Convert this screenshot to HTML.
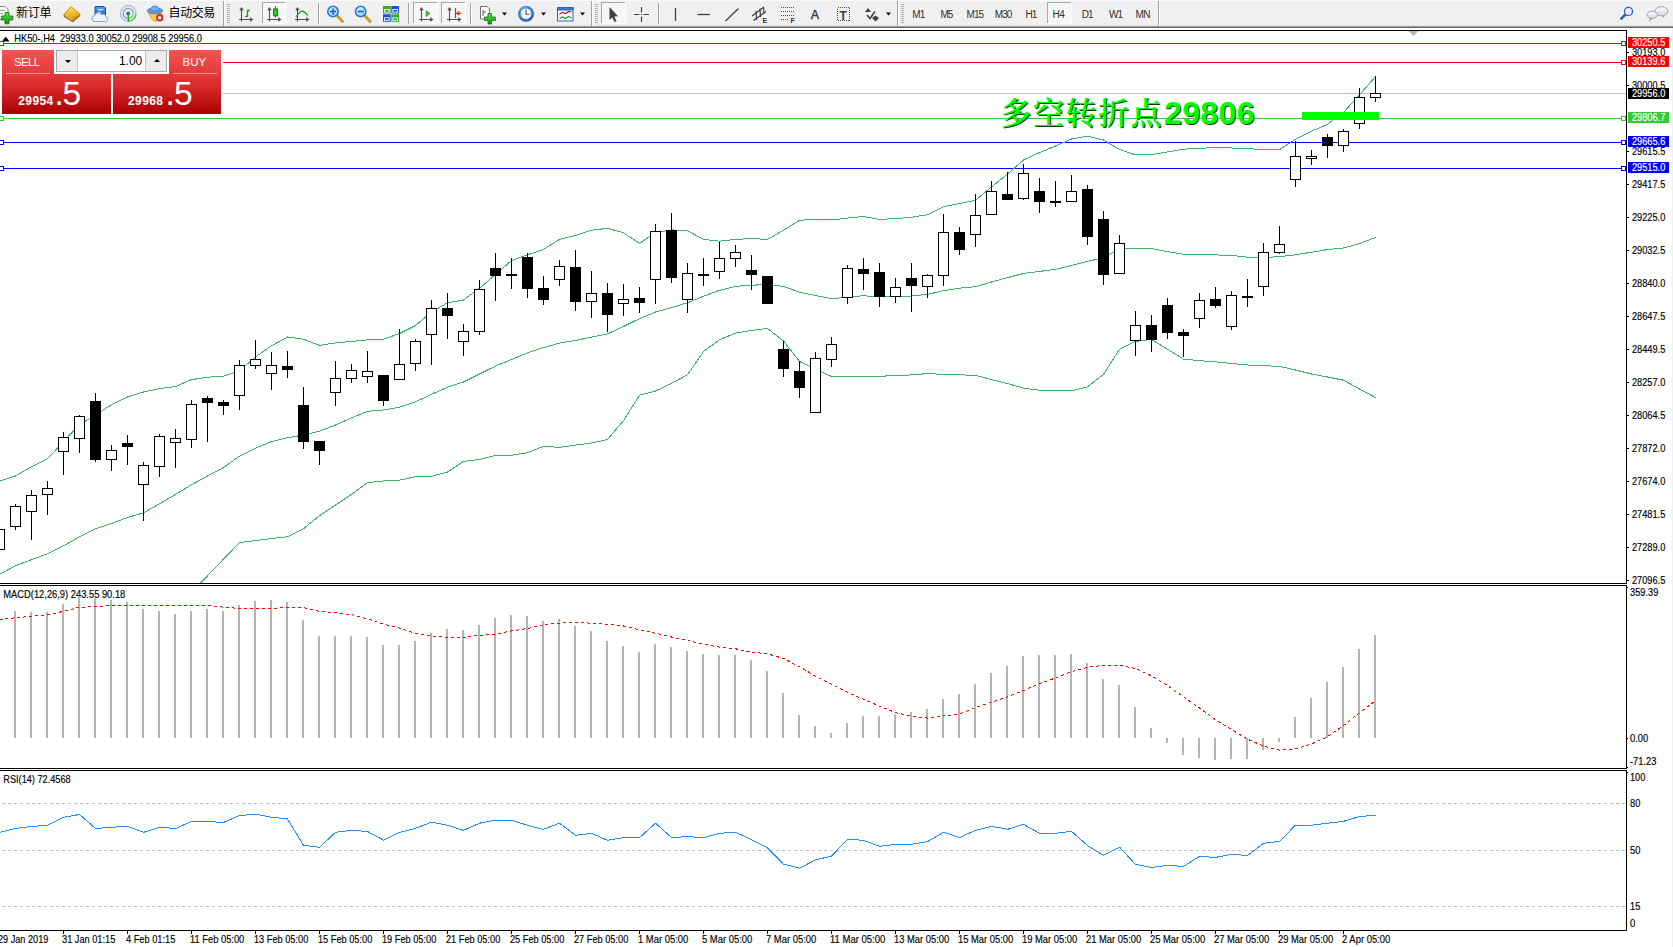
<!DOCTYPE html>
<html><head><meta charset="utf-8"><title>HK50 H4</title>
<style>
html,body{margin:0;padding:0;background:#fff}
body{width:1673px;height:947px;position:relative;overflow:hidden;font-family:"Liberation Sans","Noto Sans CJK SC",sans-serif}
.panel{position:absolute;left:0;top:46px;width:223px;height:70px}
.pbg{position:absolute;left:0;top:0;width:223px;height:70px;background:#fff}
.sellt,.buyt,.sellb,.buyb{position:absolute;color:#fff}
.sellt{left:2px;top:4px;width:52px;height:25px;background:linear-gradient(#f25454,#e43838)}
.buyt{left:169px;top:4px;width:52px;height:25px;background:linear-gradient(#f25454,#e43838)}
.sellb{left:2px;top:28px;width:109px;height:40px;background:linear-gradient(#e43838 0%,#d42626 40%,#b80c0c 80%,#a80000 100%)}
.buyb{left:113px;top:28px;width:108px;height:40px;background:linear-gradient(#e43838 0%,#d42626 40%,#b80c0c 80%,#a80000 100%)}
.sellt span,.buyt span{position:absolute;top:4.5px;font-size:11.5px;line-height:14px;letter-spacing:-0.65px}
.sellt span{left:12px}
.buyt span{left:13.5px;letter-spacing:0}
.sellt i,.buyt i{position:absolute;left:4px;top:23px;width:44px;height:1px;background:#f79a9a}
.sm{position:absolute;left:16.3px;top:20px;font-size:12px;font-weight:bold;line-height:14px;letter-spacing:0.4px}
.dot{position:absolute;left:52.5px;top:1px;font-size:33.5px;line-height:38px}
.bg{position:absolute;left:60.5px;top:1px;font-size:33.5px;line-height:38px}
.buyb .sm{left:15px}.buyb .dot{left:52.5px}.buyb .bg{left:61px}
.spin{position:absolute;left:56px;top:4px;width:109px;height:20px;border:1px solid #a8a8a8;background:#fff}
.sb{position:absolute;top:0;width:20px;height:20px;background:#ececec}
.sb.l{left:0;border-right:1px solid #c4c4c4}.sb.r{right:0;border-left:1px solid #c4c4c4}
.val{position:absolute;left:20.3px;top:0;width:65px;height:20px;font-size:12px;line-height:20px;text-align:right;color:#000}
.dn,.up{position:absolute;left:7.5px;width:0;height:0;border-left:3px solid transparent;border-right:3px solid transparent}
.dn{top:8.5px;border-top:3.5px solid #000}
.up{top:8px;border-bottom:3.5px solid #000}

</style></head><body>
<svg width="1673" height="947" viewBox="0 0 1673 947" style="position:absolute;left:0;top:0" font-family="Liberation Sans, sans-serif" font-size="10.4px" shape-rendering="crispEdges">
<rect x="0" y="28" width="1673" height="919" fill="#fff"/>
<rect x="1672" y="28" width="1" height="919" fill="#f0f0f0"/>
<defs><clipPath id="cm"><rect x="0" y="31" width="1626" height="552"/></clipPath><clipPath id="cd"><rect x="0" y="586" width="1626" height="182"/></clipPath><clipPath id="cr"><rect x="0" y="771" width="1626" height="159"/></clipPath></defs>
<g clip-path="url(#cm)"><rect x="0" y="93" width="1626" height="1" fill="#c0c0c0"/><rect x="0" y="43" width="1626" height="1" fill="#ff0000"/><rect x="-0.5" y="41.5" width="4" height="4" fill="#fff" stroke="#ff0000" stroke-width="1"/><rect x="1621.5" y="41.5" width="4" height="4" fill="#fff" stroke="#ff0000" stroke-width="1"/><rect x="0" y="62" width="1626" height="1" fill="#ff0000"/><rect x="-0.5" y="60.5" width="4" height="4" fill="#fff" stroke="#ff0000" stroke-width="1"/><rect x="1621.5" y="60.5" width="4" height="4" fill="#fff" stroke="#ff0000" stroke-width="1"/><rect x="0" y="118" width="1626" height="1" fill="#32cd32"/><rect x="-0.5" y="116.5" width="4" height="4" fill="#fff" stroke="#32cd32" stroke-width="1"/><rect x="1621.5" y="116.5" width="4" height="4" fill="#fff" stroke="#32cd32" stroke-width="1"/><rect x="0" y="142" width="1626" height="1" fill="#0000ff"/><rect x="-0.5" y="140.5" width="4" height="4" fill="#fff" stroke="#0000ff" stroke-width="1"/><rect x="1621.5" y="140.5" width="4" height="4" fill="#fff" stroke="#0000ff" stroke-width="1"/><rect x="0" y="168" width="1626" height="1" fill="#0000ff"/><rect x="-0.5" y="166.5" width="4" height="4" fill="#fff" stroke="#0000ff" stroke-width="1"/><rect x="1621.5" y="166.5" width="4" height="4" fill="#fff" stroke="#0000ff" stroke-width="1"/><polyline points="-0.5,481.2 15.5,476.0 31.5,466.7 47.5,458.8 63.5,441.6 79.5,424.5 95.5,415.0 111.5,404.7 127.5,397.0 143.5,392.0 159.5,388.6 175.5,386.5 191.5,379.6 207.5,377.2 223.5,376.3 239.5,370.7 255.5,356.9 271.5,345.8 287.5,337.0 303.5,339.2 319.5,345.4 335.5,342.9 351.5,341.4 367.5,339.9 383.5,339.2 399.5,333.5 415.5,325.5 431.5,312.0 447.5,302.8 463.5,300.1 479.5,288.2 495.5,274.5 511.5,260.5 527.5,254.7 543.5,249.4 559.5,239.4 575.5,235.4 591.5,230.2 607.5,228.3 623.5,232.8 639.5,243.4 655.5,232.8 671.5,229.9 687.5,230.7 703.5,239.4 719.5,241.2 735.5,239.4 751.5,238.6 767.5,239.4 783.5,230.2 799.5,220.4 815.5,219.1 831.5,220.0 847.5,218.1 863.5,216.5 879.5,219.4 895.5,218.6 911.5,217.3 927.5,214.7 943.5,206.8 959.5,203.6 975.5,200.2 991.5,187.0 1007.5,174.0 1023.5,160.0 1039.5,152.5 1055.5,146.0 1071.5,139.0 1087.5,136.2 1103.5,140.0 1119.5,149.5 1135.5,155.0 1151.5,154.6 1167.5,152.0 1183.5,149.2 1199.5,148.3 1215.5,147.6 1231.5,148.0 1247.5,148.8 1263.5,149.3 1279.5,149.7 1295.5,139.2 1311.5,131.3 1327.5,124.2 1343.5,112.5 1359.5,94.8 1375.5,76.6" fill="none" stroke="#3cb371" stroke-width="1"/><polyline points="-0.5,574.4 15.5,565.7 31.5,559.6 47.5,553.8 63.5,545.9 79.5,536.7 95.5,528.8 111.5,523.5 127.5,517.4 143.5,512.9 159.5,503.7 175.5,494.4 191.5,484.7 207.5,476.0 223.5,467.5 239.5,456.2 255.5,448.2 271.5,441.6 287.5,437.7 303.5,435.0 319.5,431.1 335.5,425.0 351.5,417.9 367.5,411.3 383.5,410.0 399.5,407.2 415.5,401.8 431.5,394.4 447.5,387.2 463.5,382.0 479.5,374.0 495.5,366.1 511.5,359.5 527.5,352.9 543.5,347.6 559.5,343.1 575.5,340.5 591.5,337.1 607.5,333.9 623.5,326.5 639.5,318.6 655.5,312.0 671.5,307.5 687.5,302.8 703.5,296.2 719.5,290.3 735.5,286.4 751.5,285.1 767.5,284.8 783.5,286.4 799.5,292.2 815.5,295.6 831.5,298.6 847.5,297.3 863.5,295.7 879.5,297.0 895.5,296.5 911.5,296.0 927.5,294.4 943.5,290.7 959.5,288.1 975.5,286.7 991.5,282.0 1007.5,277.5 1023.5,273.5 1039.5,271.4 1055.5,269.3 1071.5,265.4 1087.5,261.4 1103.5,257.7 1119.5,249.0 1135.5,248.2 1151.5,248.5 1167.5,251.6 1183.5,254.3 1199.5,254.4 1215.5,254.9 1231.5,255.4 1247.5,257.2 1263.5,257.5 1279.5,256.7 1295.5,254.8 1311.5,252.2 1327.5,249.5 1343.5,248.0 1359.5,243.5 1375.5,237.4" fill="none" stroke="#3cb371" stroke-width="1"/><polyline points="191.5,592.5 207.5,575.8 223.5,559.2 239.5,542.5 255.5,540.6 271.5,538.5 287.5,536.7 303.5,528.8 319.5,515.6 335.5,505.0 351.5,494.4 367.5,482.6 383.5,481.0 399.5,480.2 415.5,476.7 431.5,476.3 447.5,472.1 463.5,461.4 479.5,459.4 495.5,455.5 511.5,455.2 527.5,452.7 543.5,446.4 559.5,447.3 575.5,445.1 591.5,443.0 607.5,439.5 623.5,420.6 639.5,395.2 655.5,391.0 671.5,383.3 687.5,374.8 703.5,351.6 719.5,339.7 735.5,333.1 751.5,330.5 767.5,328.4 783.5,341.0 799.5,361.5 815.5,369.0 831.5,376.5 847.5,376.2 863.5,376.2 879.5,376.2 895.5,375.7 911.5,374.9 927.5,373.6 943.5,374.4 959.5,374.9 975.5,375.2 991.5,379.7 1007.5,383.6 1023.5,388.1 1039.5,390.2 1055.5,391.0 1071.5,390.8 1087.5,386.8 1103.5,374.4 1119.5,349.3 1135.5,341.4 1151.5,339.5 1167.5,349.3 1183.5,359.1 1199.5,360.7 1215.5,361.8 1231.5,363.5 1247.5,365.0 1263.5,365.7 1279.5,366.4 1295.5,370.0 1311.5,374.0 1327.5,377.0 1343.5,380.2 1359.5,389.0 1375.5,397.7" fill="none" stroke="#3cb371" stroke-width="1"/><rect x="-1" y="529" width="1" height="21" fill="#000"/><rect x="-6" y="529" width="11" height="21" fill="#000"/><rect x="-5" y="530" width="9" height="19" fill="#fff"/><rect x="15" y="504" width="1" height="26" fill="#000"/><rect x="10" y="506" width="11" height="21" fill="#000"/><rect x="11" y="507" width="9" height="19" fill="#fff"/><rect x="31" y="490" width="1" height="50" fill="#000"/><rect x="26" y="495" width="11" height="17" fill="#000"/><rect x="27" y="496" width="9" height="15" fill="#fff"/><rect x="47" y="481" width="1" height="34" fill="#000"/><rect x="42" y="488" width="11" height="7" fill="#000"/><rect x="43" y="489" width="9" height="5" fill="#fff"/><rect x="63" y="432" width="1" height="43" fill="#000"/><rect x="58" y="437" width="11" height="15" fill="#000"/><rect x="59" y="438" width="9" height="13" fill="#fff"/><rect x="79" y="415" width="1" height="38" fill="#000"/><rect x="74" y="416" width="11" height="23" fill="#000"/><rect x="75" y="417" width="9" height="21" fill="#fff"/><rect x="95" y="393" width="1" height="69" fill="#000"/><rect x="90" y="401" width="11" height="59" fill="#000"/><rect x="111" y="445" width="1" height="26" fill="#000"/><rect x="106" y="450" width="11" height="10" fill="#000"/><rect x="107" y="451" width="9" height="8" fill="#fff"/><rect x="127" y="435" width="1" height="30" fill="#000"/><rect x="122" y="443" width="11" height="4" fill="#000"/><rect x="143" y="462" width="1" height="59" fill="#000"/><rect x="138" y="465" width="11" height="20" fill="#000"/><rect x="139" y="466" width="9" height="18" fill="#fff"/><rect x="159" y="434" width="1" height="43" fill="#000"/><rect x="154" y="436" width="11" height="31" fill="#000"/><rect x="155" y="437" width="9" height="29" fill="#fff"/><rect x="175" y="429" width="1" height="39" fill="#000"/><rect x="170" y="438" width="11" height="5" fill="#000"/><rect x="171" y="439" width="9" height="3" fill="#fff"/><rect x="191" y="400" width="1" height="48" fill="#000"/><rect x="186" y="404" width="11" height="36" fill="#000"/><rect x="187" y="405" width="9" height="34" fill="#fff"/><rect x="207" y="396" width="1" height="46" fill="#000"/><rect x="202" y="398" width="11" height="5" fill="#000"/><rect x="223" y="400" width="1" height="15" fill="#000"/><rect x="218" y="402" width="11" height="4" fill="#000"/><rect x="239" y="360" width="1" height="50" fill="#000"/><rect x="234" y="365" width="11" height="31" fill="#000"/><rect x="235" y="366" width="9" height="29" fill="#fff"/><rect x="255" y="340" width="1" height="29" fill="#000"/><rect x="250" y="359" width="11" height="7" fill="#000"/><rect x="251" y="360" width="9" height="5" fill="#fff"/><rect x="271" y="352" width="1" height="38" fill="#000"/><rect x="266" y="365" width="11" height="9" fill="#000"/><rect x="267" y="366" width="9" height="7" fill="#fff"/><rect x="287" y="351" width="1" height="27" fill="#000"/><rect x="282" y="366" width="11" height="4" fill="#000"/><rect x="303" y="387" width="1" height="62" fill="#000"/><rect x="298" y="405" width="11" height="37" fill="#000"/><rect x="319" y="441" width="1" height="24" fill="#000"/><rect x="314" y="441" width="11" height="10" fill="#000"/><rect x="335" y="361" width="1" height="45" fill="#000"/><rect x="330" y="378" width="11" height="15" fill="#000"/><rect x="331" y="379" width="9" height="13" fill="#fff"/><rect x="351" y="364" width="1" height="19" fill="#000"/><rect x="346" y="370" width="11" height="9" fill="#000"/><rect x="347" y="371" width="9" height="7" fill="#fff"/><rect x="367" y="351" width="1" height="32" fill="#000"/><rect x="362" y="371" width="11" height="6" fill="#000"/><rect x="363" y="372" width="9" height="4" fill="#fff"/><rect x="383" y="375" width="1" height="31" fill="#000"/><rect x="378" y="375" width="11" height="26" fill="#000"/><rect x="399" y="329" width="1" height="51" fill="#000"/><rect x="394" y="364" width="11" height="16" fill="#000"/><rect x="395" y="365" width="9" height="14" fill="#fff"/><rect x="415" y="339" width="1" height="32" fill="#000"/><rect x="410" y="341" width="11" height="23" fill="#000"/><rect x="411" y="342" width="9" height="21" fill="#fff"/><rect x="431" y="300" width="1" height="65" fill="#000"/><rect x="426" y="308" width="11" height="27" fill="#000"/><rect x="427" y="309" width="9" height="25" fill="#fff"/><rect x="447" y="293" width="1" height="46" fill="#000"/><rect x="442" y="308" width="11" height="8" fill="#000"/><rect x="463" y="324" width="1" height="32" fill="#000"/><rect x="458" y="331" width="11" height="11" fill="#000"/><rect x="459" y="332" width="9" height="9" fill="#fff"/><rect x="479" y="280" width="1" height="55" fill="#000"/><rect x="474" y="289" width="11" height="43" fill="#000"/><rect x="475" y="290" width="9" height="41" fill="#fff"/><rect x="495" y="253" width="1" height="48" fill="#000"/><rect x="490" y="268" width="11" height="8" fill="#000"/><rect x="511" y="258" width="1" height="31" fill="#000"/><rect x="506" y="274" width="11" height="2" fill="#000"/><rect x="527" y="253" width="1" height="45" fill="#000"/><rect x="522" y="257" width="11" height="32" fill="#000"/><rect x="543" y="276" width="1" height="29" fill="#000"/><rect x="538" y="288" width="11" height="12" fill="#000"/><rect x="559" y="260" width="1" height="26" fill="#000"/><rect x="554" y="266" width="11" height="14" fill="#000"/><rect x="555" y="267" width="9" height="12" fill="#fff"/><rect x="575" y="250" width="1" height="61" fill="#000"/><rect x="570" y="267" width="11" height="35" fill="#000"/><rect x="591" y="271" width="1" height="47" fill="#000"/><rect x="586" y="293" width="11" height="9" fill="#000"/><rect x="587" y="294" width="9" height="7" fill="#fff"/><rect x="607" y="283" width="1" height="49" fill="#000"/><rect x="602" y="293" width="11" height="22" fill="#000"/><rect x="623" y="284" width="1" height="32" fill="#000"/><rect x="618" y="299" width="11" height="5" fill="#000"/><rect x="619" y="300" width="9" height="3" fill="#fff"/><rect x="639" y="287" width="1" height="26" fill="#000"/><rect x="634" y="298" width="11" height="5" fill="#000"/><rect x="655" y="224" width="1" height="80" fill="#000"/><rect x="650" y="231" width="11" height="49" fill="#000"/><rect x="651" y="232" width="9" height="47" fill="#fff"/><rect x="671" y="213" width="1" height="70" fill="#000"/><rect x="666" y="230" width="11" height="48" fill="#000"/><rect x="687" y="263" width="1" height="50" fill="#000"/><rect x="682" y="273" width="11" height="27" fill="#000"/><rect x="683" y="274" width="9" height="25" fill="#fff"/><rect x="703" y="258" width="1" height="28" fill="#000"/><rect x="698" y="274" width="11" height="2" fill="#000"/><rect x="719" y="242" width="1" height="37" fill="#000"/><rect x="714" y="258" width="11" height="14" fill="#000"/><rect x="715" y="259" width="9" height="12" fill="#fff"/><rect x="735" y="245" width="1" height="22" fill="#000"/><rect x="730" y="252" width="11" height="7" fill="#000"/><rect x="731" y="253" width="9" height="5" fill="#fff"/><rect x="751" y="255" width="1" height="35" fill="#000"/><rect x="746" y="270" width="11" height="5" fill="#000"/><rect x="767" y="276" width="1" height="28" fill="#000"/><rect x="762" y="276" width="11" height="28" fill="#000"/><rect x="783" y="341" width="1" height="36" fill="#000"/><rect x="778" y="349" width="11" height="20" fill="#000"/><rect x="799" y="361" width="1" height="37" fill="#000"/><rect x="794" y="371" width="11" height="17" fill="#000"/><rect x="815" y="352" width="1" height="61" fill="#000"/><rect x="810" y="358" width="11" height="55" fill="#000"/><rect x="811" y="359" width="9" height="53" fill="#fff"/><rect x="831" y="337" width="1" height="30" fill="#000"/><rect x="826" y="344" width="11" height="16" fill="#000"/><rect x="827" y="345" width="9" height="14" fill="#fff"/><rect x="847" y="265" width="1" height="39" fill="#000"/><rect x="842" y="268" width="11" height="30" fill="#000"/><rect x="843" y="269" width="9" height="28" fill="#fff"/><rect x="863" y="258" width="1" height="32" fill="#000"/><rect x="858" y="269" width="11" height="5" fill="#000"/><rect x="879" y="263" width="1" height="44" fill="#000"/><rect x="874" y="272" width="11" height="25" fill="#000"/><rect x="895" y="278" width="1" height="25" fill="#000"/><rect x="890" y="287" width="11" height="10" fill="#000"/><rect x="891" y="288" width="9" height="8" fill="#fff"/><rect x="911" y="263" width="1" height="49" fill="#000"/><rect x="906" y="278" width="11" height="8" fill="#000"/><rect x="927" y="274" width="1" height="24" fill="#000"/><rect x="922" y="275" width="11" height="12" fill="#000"/><rect x="923" y="276" width="9" height="10" fill="#fff"/><rect x="943" y="214" width="1" height="72" fill="#000"/><rect x="938" y="232" width="11" height="44" fill="#000"/><rect x="939" y="233" width="9" height="42" fill="#fff"/><rect x="959" y="227" width="1" height="28" fill="#000"/><rect x="954" y="232" width="11" height="18" fill="#000"/><rect x="975" y="194" width="1" height="53" fill="#000"/><rect x="970" y="215" width="11" height="20" fill="#000"/><rect x="971" y="216" width="9" height="18" fill="#fff"/><rect x="991" y="181" width="1" height="34" fill="#000"/><rect x="986" y="191" width="11" height="24" fill="#000"/><rect x="987" y="192" width="9" height="22" fill="#fff"/><rect x="1007" y="172" width="1" height="28" fill="#000"/><rect x="1002" y="194" width="11" height="6" fill="#000"/><rect x="1023" y="164" width="1" height="36" fill="#000"/><rect x="1018" y="173" width="11" height="26" fill="#000"/><rect x="1019" y="174" width="9" height="24" fill="#fff"/><rect x="1039" y="178" width="1" height="35" fill="#000"/><rect x="1034" y="191" width="11" height="11" fill="#000"/><rect x="1055" y="181" width="1" height="26" fill="#000"/><rect x="1050" y="201" width="11" height="2" fill="#000"/><rect x="1071" y="175" width="1" height="27" fill="#000"/><rect x="1066" y="191" width="11" height="11" fill="#000"/><rect x="1067" y="192" width="9" height="9" fill="#fff"/><rect x="1087" y="185" width="1" height="60" fill="#000"/><rect x="1082" y="189" width="11" height="48" fill="#000"/><rect x="1103" y="211" width="1" height="74" fill="#000"/><rect x="1098" y="219" width="11" height="56" fill="#000"/><rect x="1119" y="235" width="1" height="39" fill="#000"/><rect x="1114" y="243" width="11" height="31" fill="#000"/><rect x="1115" y="244" width="9" height="29" fill="#fff"/><rect x="1135" y="311" width="1" height="45" fill="#000"/><rect x="1130" y="325" width="11" height="16" fill="#000"/><rect x="1131" y="326" width="9" height="14" fill="#fff"/><rect x="1151" y="315" width="1" height="37" fill="#000"/><rect x="1146" y="325" width="11" height="15" fill="#000"/><rect x="1167" y="298" width="1" height="41" fill="#000"/><rect x="1162" y="305" width="11" height="28" fill="#000"/><rect x="1183" y="329" width="1" height="28" fill="#000"/><rect x="1178" y="332" width="11" height="4" fill="#000"/><rect x="1199" y="293" width="1" height="35" fill="#000"/><rect x="1194" y="300" width="11" height="19" fill="#000"/><rect x="1195" y="301" width="9" height="17" fill="#fff"/><rect x="1215" y="287" width="1" height="21" fill="#000"/><rect x="1210" y="299" width="11" height="7" fill="#000"/><rect x="1231" y="291" width="1" height="39" fill="#000"/><rect x="1226" y="295" width="11" height="32" fill="#000"/><rect x="1227" y="296" width="9" height="30" fill="#fff"/><rect x="1247" y="279" width="1" height="28" fill="#000"/><rect x="1242" y="296" width="11" height="2" fill="#000"/><rect x="1263" y="243" width="1" height="53" fill="#000"/><rect x="1258" y="252" width="11" height="35" fill="#000"/><rect x="1259" y="253" width="9" height="33" fill="#fff"/><rect x="1279" y="226" width="1" height="28" fill="#000"/><rect x="1274" y="244" width="11" height="9" fill="#000"/><rect x="1275" y="245" width="9" height="7" fill="#fff"/><rect x="1295" y="141" width="1" height="46" fill="#000"/><rect x="1290" y="156" width="11" height="24" fill="#000"/><rect x="1291" y="157" width="9" height="22" fill="#fff"/><rect x="1311" y="150" width="1" height="15" fill="#000"/><rect x="1306" y="156" width="11" height="3" fill="#000"/><rect x="1307" y="157" width="9" height="1" fill="#fff"/><rect x="1327" y="134" width="1" height="24" fill="#000"/><rect x="1322" y="137" width="11" height="9" fill="#000"/><rect x="1343" y="129" width="1" height="23" fill="#000"/><rect x="1338" y="131" width="11" height="15" fill="#000"/><rect x="1339" y="132" width="9" height="13" fill="#fff"/><rect x="1359" y="88" width="1" height="41" fill="#000"/><rect x="1354" y="97" width="11" height="27" fill="#000"/><rect x="1355" y="98" width="9" height="25" fill="#fff"/><rect x="1375" y="76" width="1" height="26" fill="#000"/><rect x="1370" y="93" width="11" height="5" fill="#000"/><rect x="1371" y="94" width="9" height="3" fill="#fff"/><rect x="1302" y="112" width="77" height="8" fill="#00ff00"/><polygon points="1408.5,31 1418.5,31 1413.5,36" fill="#b4b4b4" shape-rendering="auto"/></g>
<g shape-rendering="auto" font-weight="bold" font-size="32px"><text x="1001.4" y="125" fill="#0a3a0a" font-size="31px" font-weight="600" font-family="Liberation Serif, Noto Serif CJK SC, Noto Sans CJK SC, serif" textLength="161">多空转折点</text><text x="1000.4" y="124" fill="#00ff00" font-size="31px" font-weight="600" font-family="Liberation Serif, Noto Serif CJK SC, Noto Sans CJK SC, serif" textLength="161">多空转折点</text><text x="1165" y="125" fill="#0a3a0a" textLength="90.5">29806</text><text x="1164" y="124" fill="#00ff00" textLength="90.5">29806</text></g>
<rect x="0" y="30" width="1627" height="1" fill="#000"/>
<rect x="1626" y="30" width="1" height="554" fill="#000"/>
<rect x="0" y="583" width="1627" height="1" fill="#000"/>
<rect x="0" y="585" width="1627" height="1" fill="#000"/>
<rect x="1626" y="585" width="1" height="184" fill="#000"/>
<rect x="0" y="768" width="1627" height="1" fill="#000"/>
<rect x="0" y="770" width="1627" height="1" fill="#000"/>
<rect x="1626" y="770" width="1" height="161" fill="#000"/>
<rect x="0" y="930" width="1627" height="1" fill="#000"/>
<polygon points="2,41.5 9.5,41.5 5.75,36.5" fill="#000" shape-rendering="auto"/>
<g shape-rendering="auto">
<text x="14.3" y="42" fill="#000" stroke="#000" stroke-width="0.15" textLength="187.5" lengthAdjust="spacingAndGlyphs">HK50-,H4&#160;&#160;29933.0 30052.0 29908.5 29956.0</text>
<text x="3.3" y="598" fill="#000" stroke="#000" stroke-width="0.15" textLength="122" lengthAdjust="spacingAndGlyphs">MACD(12,26,9) 243.55 90.18</text>
<text x="3.3" y="783" fill="#000" stroke="#000" stroke-width="0.15" textLength="67.3" lengthAdjust="spacingAndGlyphs">RSI(14) 72.4568</text>
<rect x="1627" y="52" width="2" height="1" fill="#000" shape-rendering="crispEdges"/>
<text x="1632" y="56" fill="#000" stroke="#000" stroke-width="0.15" textLength="33.3" lengthAdjust="spacingAndGlyphs">30193.0</text>
<rect x="1627" y="85" width="2" height="1" fill="#000" shape-rendering="crispEdges"/>
<text x="1632" y="89" fill="#000" stroke="#000" stroke-width="0.15" textLength="33.3" lengthAdjust="spacingAndGlyphs">30000.5</text>
<rect x="1627" y="151" width="2" height="1" fill="#000" shape-rendering="crispEdges"/>
<text x="1632" y="155" fill="#000" stroke="#000" stroke-width="0.15" textLength="33.3" lengthAdjust="spacingAndGlyphs">29615.5</text>
<rect x="1627" y="184" width="2" height="1" fill="#000" shape-rendering="crispEdges"/>
<text x="1632" y="188" fill="#000" stroke="#000" stroke-width="0.15" textLength="33.3" lengthAdjust="spacingAndGlyphs">29417.5</text>
<rect x="1627" y="217" width="2" height="1" fill="#000" shape-rendering="crispEdges"/>
<text x="1632" y="221" fill="#000" stroke="#000" stroke-width="0.15" textLength="33.3" lengthAdjust="spacingAndGlyphs">29225.0</text>
<rect x="1627" y="250" width="2" height="1" fill="#000" shape-rendering="crispEdges"/>
<text x="1632" y="254" fill="#000" stroke="#000" stroke-width="0.15" textLength="33.3" lengthAdjust="spacingAndGlyphs">29032.5</text>
<rect x="1627" y="283" width="2" height="1" fill="#000" shape-rendering="crispEdges"/>
<text x="1632" y="287" fill="#000" stroke="#000" stroke-width="0.15" textLength="33.3" lengthAdjust="spacingAndGlyphs">28840.0</text>
<rect x="1627" y="316" width="2" height="1" fill="#000" shape-rendering="crispEdges"/>
<text x="1632" y="320" fill="#000" stroke="#000" stroke-width="0.15" textLength="33.3" lengthAdjust="spacingAndGlyphs">28647.5</text>
<rect x="1627" y="349" width="2" height="1" fill="#000" shape-rendering="crispEdges"/>
<text x="1632" y="353" fill="#000" stroke="#000" stroke-width="0.15" textLength="33.3" lengthAdjust="spacingAndGlyphs">28449.5</text>
<rect x="1627" y="382" width="2" height="1" fill="#000" shape-rendering="crispEdges"/>
<text x="1632" y="386" fill="#000" stroke="#000" stroke-width="0.15" textLength="33.3" lengthAdjust="spacingAndGlyphs">28257.0</text>
<rect x="1627" y="415" width="2" height="1" fill="#000" shape-rendering="crispEdges"/>
<text x="1632" y="419" fill="#000" stroke="#000" stroke-width="0.15" textLength="33.3" lengthAdjust="spacingAndGlyphs">28064.5</text>
<rect x="1627" y="448" width="2" height="1" fill="#000" shape-rendering="crispEdges"/>
<text x="1632" y="452" fill="#000" stroke="#000" stroke-width="0.15" textLength="33.3" lengthAdjust="spacingAndGlyphs">27872.0</text>
<rect x="1627" y="481" width="2" height="1" fill="#000" shape-rendering="crispEdges"/>
<text x="1632" y="485" fill="#000" stroke="#000" stroke-width="0.15" textLength="33.3" lengthAdjust="spacingAndGlyphs">27674.0</text>
<rect x="1627" y="514" width="2" height="1" fill="#000" shape-rendering="crispEdges"/>
<text x="1632" y="518" fill="#000" stroke="#000" stroke-width="0.15" textLength="33.3" lengthAdjust="spacingAndGlyphs">27481.5</text>
<rect x="1627" y="547" width="2" height="1" fill="#000" shape-rendering="crispEdges"/>
<text x="1632" y="551" fill="#000" stroke="#000" stroke-width="0.15" textLength="33.3" lengthAdjust="spacingAndGlyphs">27289.0</text>
<rect x="1627" y="580" width="2" height="1" fill="#000" shape-rendering="crispEdges"/>
<text x="1632" y="584" fill="#000" stroke="#000" stroke-width="0.15" textLength="33.3" lengthAdjust="spacingAndGlyphs">27096.5</text>
<rect x="1628" y="37" width="41" height="11" fill="#ff0000" shape-rendering="crispEdges"/><text x="1632" y="46" fill="#fff" stroke="#fff" stroke-width="0.15" textLength="33.3" lengthAdjust="spacingAndGlyphs">30250.5</text>
<rect x="1628" y="56" width="41" height="11" fill="#ff0000" shape-rendering="crispEdges"/><text x="1632" y="65" fill="#fff" stroke="#fff" stroke-width="0.15" textLength="33.3" lengthAdjust="spacingAndGlyphs">30139.6</text>
<rect x="1628" y="88" width="41" height="11" fill="#000000" shape-rendering="crispEdges"/><text x="1632" y="97" fill="#fff" stroke="#fff" stroke-width="0.15" textLength="33.3" lengthAdjust="spacingAndGlyphs">29956.0</text>
<rect x="1628" y="112" width="41" height="11" fill="#32cd32" shape-rendering="crispEdges"/><text x="1632" y="121" fill="#fff" stroke="#fff" stroke-width="0.15" textLength="33.3" lengthAdjust="spacingAndGlyphs">29806.7</text>
<rect x="1628" y="136" width="41" height="11" fill="#0000ff" shape-rendering="crispEdges"/><text x="1632" y="145" fill="#fff" stroke="#fff" stroke-width="0.15" textLength="33.3" lengthAdjust="spacingAndGlyphs">29665.6</text>
<rect x="1628" y="162" width="41" height="11" fill="#0000ff" shape-rendering="crispEdges"/><text x="1632" y="171" fill="#fff" stroke="#fff" stroke-width="0.15" textLength="33.3" lengthAdjust="spacingAndGlyphs">29515.0</text>
<rect x="1627" y="587" width="1" height="1" fill="#000" shape-rendering="crispEdges"/>
<rect x="1627" y="738" width="1" height="1" fill="#000" shape-rendering="crispEdges"/>
<rect x="1627" y="767" width="1" height="1" fill="#000" shape-rendering="crispEdges"/>
<text x="1630" y="596" fill="#000" stroke="#000" stroke-width="0.15" textLength="28.3" lengthAdjust="spacingAndGlyphs">359.39</text>
<text x="1630" y="742" fill="#000" stroke="#000" stroke-width="0.15" textLength="18.3" lengthAdjust="spacingAndGlyphs">0.00</text>
<text x="1630" y="765" fill="#000" stroke="#000" stroke-width="0.15" textLength="26.3" lengthAdjust="spacingAndGlyphs">-71.23</text>
<text x="1630" y="781" fill="#000" stroke="#000" stroke-width="0.15" textLength="15.3" lengthAdjust="spacingAndGlyphs">100</text>
<text x="1630" y="807" fill="#000" stroke="#000" stroke-width="0.15" textLength="10.3" lengthAdjust="spacingAndGlyphs">80</text>
<text x="1630" y="854" fill="#000" stroke="#000" stroke-width="0.15" textLength="10.3" lengthAdjust="spacingAndGlyphs">50</text>
<text x="1630" y="910" fill="#000" stroke="#000" stroke-width="0.15" textLength="10.3" lengthAdjust="spacingAndGlyphs">15</text>
<text x="1630" y="927" fill="#000" stroke="#000" stroke-width="0.15" textLength="5.3" lengthAdjust="spacingAndGlyphs">0</text>
<rect x="1627" y="772" width="1" height="1" fill="#000" shape-rendering="crispEdges"/>
<rect x="-1" y="931" width="1" height="3" fill="#000" shape-rendering="crispEdges"/>
<text x="-2" y="943" fill="#000" stroke="#000" stroke-width="0.15" textLength="50.3" lengthAdjust="spacingAndGlyphs">29 Jan 2019</text>
<rect x="63" y="931" width="1" height="3" fill="#000" shape-rendering="crispEdges"/>
<text x="62" y="943" fill="#000" stroke="#000" stroke-width="0.15" textLength="53.3" lengthAdjust="spacingAndGlyphs">31 Jan 01:15</text>
<rect x="127" y="931" width="1" height="3" fill="#000" shape-rendering="crispEdges"/>
<text x="126" y="943" fill="#000" stroke="#000" stroke-width="0.15" textLength="49.3" lengthAdjust="spacingAndGlyphs">4 Feb 01:15</text>
<rect x="191" y="931" width="1" height="3" fill="#000" shape-rendering="crispEdges"/>
<text x="190" y="943" fill="#000" stroke="#000" stroke-width="0.15" textLength="54.3" lengthAdjust="spacingAndGlyphs">11 Feb 05:00</text>
<rect x="255" y="931" width="1" height="3" fill="#000" shape-rendering="crispEdges"/>
<text x="254" y="943" fill="#000" stroke="#000" stroke-width="0.15" textLength="54.3" lengthAdjust="spacingAndGlyphs">13 Feb 05:00</text>
<rect x="319" y="931" width="1" height="3" fill="#000" shape-rendering="crispEdges"/>
<text x="318" y="943" fill="#000" stroke="#000" stroke-width="0.15" textLength="54.3" lengthAdjust="spacingAndGlyphs">15 Feb 05:00</text>
<rect x="383" y="931" width="1" height="3" fill="#000" shape-rendering="crispEdges"/>
<text x="382" y="943" fill="#000" stroke="#000" stroke-width="0.15" textLength="54.3" lengthAdjust="spacingAndGlyphs">19 Feb 05:00</text>
<rect x="447" y="931" width="1" height="3" fill="#000" shape-rendering="crispEdges"/>
<text x="446" y="943" fill="#000" stroke="#000" stroke-width="0.15" textLength="54.3" lengthAdjust="spacingAndGlyphs">21 Feb 05:00</text>
<rect x="511" y="931" width="1" height="3" fill="#000" shape-rendering="crispEdges"/>
<text x="510" y="943" fill="#000" stroke="#000" stroke-width="0.15" textLength="54.3" lengthAdjust="spacingAndGlyphs">25 Feb 05:00</text>
<rect x="575" y="931" width="1" height="3" fill="#000" shape-rendering="crispEdges"/>
<text x="574" y="943" fill="#000" stroke="#000" stroke-width="0.15" textLength="54.3" lengthAdjust="spacingAndGlyphs">27 Feb 05:00</text>
<rect x="639" y="931" width="1" height="3" fill="#000" shape-rendering="crispEdges"/>
<text x="638" y="943" fill="#000" stroke="#000" stroke-width="0.15" textLength="50.3" lengthAdjust="spacingAndGlyphs">1 Mar 05:00</text>
<rect x="703" y="931" width="1" height="3" fill="#000" shape-rendering="crispEdges"/>
<text x="702" y="943" fill="#000" stroke="#000" stroke-width="0.15" textLength="50.3" lengthAdjust="spacingAndGlyphs">5 Mar 05:00</text>
<rect x="767" y="931" width="1" height="3" fill="#000" shape-rendering="crispEdges"/>
<text x="766" y="943" fill="#000" stroke="#000" stroke-width="0.15" textLength="50.3" lengthAdjust="spacingAndGlyphs">7 Mar 05:00</text>
<rect x="831" y="931" width="1" height="3" fill="#000" shape-rendering="crispEdges"/>
<text x="830" y="943" fill="#000" stroke="#000" stroke-width="0.15" textLength="55.3" lengthAdjust="spacingAndGlyphs">11 Mar 05:00</text>
<rect x="895" y="931" width="1" height="3" fill="#000" shape-rendering="crispEdges"/>
<text x="894" y="943" fill="#000" stroke="#000" stroke-width="0.15" textLength="55.3" lengthAdjust="spacingAndGlyphs">13 Mar 05:00</text>
<rect x="959" y="931" width="1" height="3" fill="#000" shape-rendering="crispEdges"/>
<text x="958" y="943" fill="#000" stroke="#000" stroke-width="0.15" textLength="55.3" lengthAdjust="spacingAndGlyphs">15 Mar 05:00</text>
<rect x="1023" y="931" width="1" height="3" fill="#000" shape-rendering="crispEdges"/>
<text x="1022" y="943" fill="#000" stroke="#000" stroke-width="0.15" textLength="55.3" lengthAdjust="spacingAndGlyphs">19 Mar 05:00</text>
<rect x="1087" y="931" width="1" height="3" fill="#000" shape-rendering="crispEdges"/>
<text x="1086" y="943" fill="#000" stroke="#000" stroke-width="0.15" textLength="55.3" lengthAdjust="spacingAndGlyphs">21 Mar 05:00</text>
<rect x="1151" y="931" width="1" height="3" fill="#000" shape-rendering="crispEdges"/>
<text x="1150" y="943" fill="#000" stroke="#000" stroke-width="0.15" textLength="55.3" lengthAdjust="spacingAndGlyphs">25 Mar 05:00</text>
<rect x="1215" y="931" width="1" height="3" fill="#000" shape-rendering="crispEdges"/>
<text x="1214" y="943" fill="#000" stroke="#000" stroke-width="0.15" textLength="55.3" lengthAdjust="spacingAndGlyphs">27 Mar 05:00</text>
<rect x="1279" y="931" width="1" height="3" fill="#000" shape-rendering="crispEdges"/>
<text x="1278" y="943" fill="#000" stroke="#000" stroke-width="0.15" textLength="55.3" lengthAdjust="spacingAndGlyphs">29 Mar 05:00</text>
<rect x="1343" y="931" width="1" height="3" fill="#000" shape-rendering="crispEdges"/>
<text x="1342" y="943" fill="#000" stroke="#000" stroke-width="0.15" textLength="48.3" lengthAdjust="spacingAndGlyphs">2 Apr 05:00</text>
</g>
<g clip-path="url(#cd)"><rect x="14" y="611" width="2" height="127" fill="#b4b4b4"/><rect x="30" y="612" width="2" height="126" fill="#b4b4b4"/><rect x="46" y="612" width="2" height="126" fill="#b4b4b4"/><rect x="62" y="604" width="2" height="134" fill="#b4b4b4"/><rect x="78" y="596" width="2" height="142" fill="#b4b4b4"/><rect x="94" y="598" width="2" height="140" fill="#b4b4b4"/><rect x="110" y="600" width="2" height="138" fill="#b4b4b4"/><rect x="126" y="602" width="2" height="136" fill="#b4b4b4"/><rect x="142" y="609" width="2" height="129" fill="#b4b4b4"/><rect x="158" y="611" width="2" height="127" fill="#b4b4b4"/><rect x="174" y="614" width="2" height="124" fill="#b4b4b4"/><rect x="190" y="611" width="2" height="127" fill="#b4b4b4"/><rect x="206" y="609" width="2" height="129" fill="#b4b4b4"/><rect x="222" y="611" width="2" height="127" fill="#b4b4b4"/><rect x="238" y="605" width="2" height="133" fill="#b4b4b4"/><rect x="254" y="601" width="2" height="137" fill="#b4b4b4"/><rect x="270" y="600" width="2" height="138" fill="#b4b4b4"/><rect x="286" y="602" width="2" height="136" fill="#b4b4b4"/><rect x="302" y="620" width="2" height="118" fill="#b4b4b4"/><rect x="318" y="636" width="2" height="102" fill="#b4b4b4"/><rect x="334" y="636" width="2" height="102" fill="#b4b4b4"/><rect x="350" y="636" width="2" height="102" fill="#b4b4b4"/><rect x="366" y="637" width="2" height="101" fill="#b4b4b4"/><rect x="382" y="645" width="2" height="93" fill="#b4b4b4"/><rect x="398" y="645" width="2" height="93" fill="#b4b4b4"/><rect x="414" y="641" width="2" height="97" fill="#b4b4b4"/><rect x="430" y="633" width="2" height="105" fill="#b4b4b4"/><rect x="446" y="629" width="2" height="109" fill="#b4b4b4"/><rect x="462" y="630" width="2" height="108" fill="#b4b4b4"/><rect x="478" y="625" width="2" height="113" fill="#b4b4b4"/><rect x="494" y="618" width="2" height="120" fill="#b4b4b4"/><rect x="510" y="615" width="2" height="123" fill="#b4b4b4"/><rect x="526" y="616" width="2" height="122" fill="#b4b4b4"/><rect x="542" y="621" width="2" height="117" fill="#b4b4b4"/><rect x="558" y="619" width="2" height="119" fill="#b4b4b4"/><rect x="574" y="626" width="2" height="112" fill="#b4b4b4"/><rect x="590" y="631" width="2" height="107" fill="#b4b4b4"/><rect x="606" y="641" width="2" height="97" fill="#b4b4b4"/><rect x="622" y="646" width="2" height="92" fill="#b4b4b4"/><rect x="638" y="652" width="2" height="86" fill="#b4b4b4"/><rect x="654" y="644" width="2" height="94" fill="#b4b4b4"/><rect x="670" y="647" width="2" height="91" fill="#b4b4b4"/><rect x="686" y="651" width="2" height="87" fill="#b4b4b4"/><rect x="702" y="654" width="2" height="84" fill="#b4b4b4"/><rect x="718" y="655" width="2" height="83" fill="#b4b4b4"/><rect x="734" y="655" width="2" height="83" fill="#b4b4b4"/><rect x="750" y="660" width="2" height="78" fill="#b4b4b4"/><rect x="766" y="671" width="2" height="67" fill="#b4b4b4"/><rect x="782" y="693" width="2" height="45" fill="#b4b4b4"/><rect x="798" y="715" width="2" height="23" fill="#b4b4b4"/><rect x="814" y="726" width="2" height="12" fill="#b4b4b4"/><rect x="830" y="733" width="2" height="5" fill="#b4b4b4"/><rect x="846" y="723" width="2" height="15" fill="#b4b4b4"/><rect x="862" y="716" width="2" height="22" fill="#b4b4b4"/><rect x="878" y="716" width="2" height="22" fill="#b4b4b4"/><rect x="894" y="714" width="2" height="24" fill="#b4b4b4"/><rect x="910" y="712" width="2" height="26" fill="#b4b4b4"/><rect x="926" y="709" width="2" height="29" fill="#b4b4b4"/><rect x="942" y="699" width="2" height="39" fill="#b4b4b4"/><rect x="958" y="694" width="2" height="44" fill="#b4b4b4"/><rect x="974" y="684" width="2" height="54" fill="#b4b4b4"/><rect x="990" y="673" width="2" height="65" fill="#b4b4b4"/><rect x="1006" y="666" width="2" height="72" fill="#b4b4b4"/><rect x="1022" y="656" width="2" height="82" fill="#b4b4b4"/><rect x="1038" y="655" width="2" height="83" fill="#b4b4b4"/><rect x="1054" y="655" width="2" height="83" fill="#b4b4b4"/><rect x="1070" y="654" width="2" height="84" fill="#b4b4b4"/><rect x="1086" y="663" width="2" height="75" fill="#b4b4b4"/><rect x="1102" y="679" width="2" height="59" fill="#b4b4b4"/><rect x="1118" y="685" width="2" height="53" fill="#b4b4b4"/><rect x="1134" y="707" width="2" height="31" fill="#b4b4b4"/><rect x="1150" y="728" width="2" height="10" fill="#b4b4b4"/><rect x="1166" y="738" width="2" height="5" fill="#b4b4b4"/><rect x="1182" y="738" width="2" height="17" fill="#b4b4b4"/><rect x="1198" y="738" width="2" height="20" fill="#b4b4b4"/><rect x="1214" y="738" width="2" height="22" fill="#b4b4b4"/><rect x="1230" y="738" width="2" height="21" fill="#b4b4b4"/><rect x="1246" y="738" width="2" height="21" fill="#b4b4b4"/><rect x="1262" y="738" width="2" height="12" fill="#b4b4b4"/><rect x="1278" y="738" width="2" height="4" fill="#b4b4b4"/><rect x="1294" y="717" width="2" height="21" fill="#b4b4b4"/><rect x="1310" y="698" width="2" height="40" fill="#b4b4b4"/><rect x="1326" y="682" width="2" height="56" fill="#b4b4b4"/><rect x="1342" y="667" width="2" height="71" fill="#b4b4b4"/><rect x="1358" y="649" width="2" height="89" fill="#b4b4b4"/><rect x="1374" y="635" width="2" height="103" fill="#b4b4b4"/><polyline points="-0.5,619.5 15.5,617.7 31.5,616.4 47.5,614.7 63.5,611.4 79.5,607.2 95.5,606.7 111.5,605.4 127.5,605.4 143.5,605.4 159.5,605.4 175.5,605.4 191.5,605.4 207.5,605.4 223.5,607.2 239.5,608.4 255.5,608.4 271.5,608.4 287.5,607.2 303.5,607.7 319.5,611.4 335.5,612.7 351.5,614.7 367.5,619.0 383.5,624.0 399.5,628.2 415.5,633.5 431.5,636.0 447.5,637.3 463.5,637.3 479.5,635.3 495.5,634.0 511.5,631.0 527.5,628.5 543.5,624.7 559.5,623.2 575.5,622.2 591.5,623.2 607.5,624.2 623.5,626.0 639.5,629.8 655.5,633.3 671.5,637.0 687.5,640.3 703.5,644.3 719.5,647.1 735.5,648.8 751.5,652.1 767.5,653.9 783.5,658.4 799.5,666.7 815.5,676.2 831.5,684.2 847.5,692.3 863.5,699.3 879.5,706.1 895.5,712.6 911.5,716.1 927.5,718.1 943.5,715.9 959.5,713.9 975.5,707.6 991.5,702.3 1007.5,696.8 1023.5,690.5 1039.5,683.5 1055.5,678.0 1071.5,671.7 1087.5,667.2 1103.5,665.4 1119.5,665.4 1135.5,668.4 1151.5,676.0 1167.5,685.5 1183.5,696.8 1199.5,708.1 1215.5,719.8 1231.5,729.7 1247.5,739.1 1263.5,746.1 1279.5,750.1 1295.5,749.0 1311.5,743.9 1327.5,736.8 1343.5,725.5 1359.5,712.8 1375.5,700.9" fill="none" stroke="#ff0000" stroke-width="1" stroke-dasharray="3 3"/></g>
<g clip-path="url(#cr)"><line x1="2" y1="803.5" x2="1626" y2="803.5" stroke="#c0c0c0" stroke-width="1" stroke-dasharray="3 3"/><line x1="2" y1="850.5" x2="1626" y2="850.5" stroke="#c0c0c0" stroke-width="1" stroke-dasharray="3 3"/><line x1="2" y1="906.5" x2="1626" y2="906.5" stroke="#c0c0c0" stroke-width="1" stroke-dasharray="3 3"/><polyline points="-0.5,832.3 15.5,828.5 31.5,826.5 47.5,825.3 63.5,817.2 79.5,814.5 95.5,828.5 111.5,827.3 127.5,826.3 143.5,832.3 159.5,827.3 175.5,828.5 191.5,821.5 207.5,821.5 223.5,822.5 239.5,815.5 255.5,814.2 271.5,817.2 287.5,819.0 303.5,845.3 319.5,847.3 335.5,832.3 351.5,830.3 367.5,831.5 383.5,840.1 399.5,832.3 415.5,828.3 431.5,822.2 447.5,825.3 463.5,830.3 479.5,823.2 495.5,820.2 511.5,820.2 527.5,825.3 543.5,829.3 559.5,823.2 575.5,835.3 591.5,833.3 607.5,840.3 623.5,837.6 639.5,837.6 655.5,823.2 671.5,837.6 687.5,836.6 703.5,837.6 719.5,833.3 735.5,832.3 751.5,839.6 767.5,847.9 783.5,864.2 799.5,868.2 815.5,859.9 831.5,856.1 847.5,839.3 863.5,840.3 879.5,846.3 895.5,844.3 911.5,844.3 927.5,841.6 943.5,832.3 959.5,837.6 975.5,830.3 991.5,826.3 1007.5,829.3 1023.5,824.3 1039.5,833.3 1055.5,833.3 1071.5,831.3 1087.5,845.6 1103.5,855.4 1119.5,847.1 1135.5,864.4 1151.5,867.4 1167.5,865.4 1183.5,866.4 1199.5,856.4 1215.5,857.4 1231.5,854.3 1247.5,855.5 1263.5,843.3 1279.5,841.3 1295.5,825.2 1311.5,825.2 1327.5,823.2 1343.5,821.3 1359.5,816.5 1375.5,815.3" fill="none" stroke="#1e90ff" stroke-width="1"/></g>
</svg>
<svg width="1673" height="28" viewBox="0 0 1673 28" style="position:absolute;left:0;top:0" font-family="Liberation Sans, Noto Sans CJK SC, sans-serif">
<defs>
<linearGradient id="gGold" x1="0" y1="0" x2="1" y2="1"><stop offset="0" stop-color="#f7dc6a"/><stop offset="1" stop-color="#c98a12"/></linearGradient>
<linearGradient id="gBlue" x1="0" y1="0" x2="0" y2="1"><stop offset="0" stop-color="#4aa3ee"/><stop offset="1" stop-color="#1560c0"/></linearGradient>
<linearGradient id="gGreen" x1="0" y1="0" x2="0" y2="1"><stop offset="0" stop-color="#5be05b"/><stop offset="1" stop-color="#0c9a0c"/></linearGradient>
<linearGradient id="gLens" x1="0" y1="0" x2="1" y2="1"><stop offset="0" stop-color="#e8f4ff"/><stop offset="1" stop-color="#8cc4f0"/></linearGradient>
<g id="dd"><polygon points="0,0 5,0 2.5,3" fill="#000"/></g>
<g id="grip"><rect x="0" y="0" width="3" height="1" fill="#b0b0b0"/><rect x="0" y="2" width="3" height="1" fill="#b0b0b0"/><rect x="0" y="4" width="3" height="1" fill="#b0b0b0"/><rect x="0" y="6" width="3" height="1" fill="#b0b0b0"/><rect x="0" y="8" width="3" height="1" fill="#b0b0b0"/><rect x="0" y="10" width="3" height="1" fill="#b0b0b0"/><rect x="0" y="12" width="3" height="1" fill="#b0b0b0"/><rect x="0" y="14" width="3" height="1" fill="#b0b0b0"/><rect x="0" y="16" width="3" height="1" fill="#b0b0b0"/><rect x="0" y="18" width="3" height="1" fill="#b0b0b0"/></g>
<g id="ax" stroke="#505050" stroke-width="1.1" fill="none"><path d="M0 8.300 V21.600 M-2.500 19.500 H10.600"/><path d="M-1.700 10.400 L0 8 L1.700 10.400 M8.600 17.800 L11 19.500 L8.600 21.200"/></g>
<linearGradient id="gGold2" x1="0" y1="0" x2="0.300" y2="1"><stop offset="0" stop-color="#fbe67c"/><stop offset="0.600" stop-color="#eebb30"/><stop offset="1" stop-color="#d99a18"/></linearGradient>
<radialGradient id="gClock" cx="0.400" cy="0.300" r="0.800"><stop offset="0" stop-color="#6cb8f8"/><stop offset="1" stop-color="#0c50b0"/></radialGradient>
</defs>
<rect x="0" y="0" width="1673" height="26" fill="#f0f0f0"/>
<rect x="0" y="0" width="1673" height="1" fill="#fafafa"/>
<rect x="0" y="25" width="1673" height="1" fill="#e4e4e4"/>
<rect x="0" y="26" width="1673" height="1" fill="#a0a0a0"/>
<rect x="0" y="27" width="1673" height="1" fill="#696969"/>

<!-- new order icon -->
<g>
<path d="M-3 6.5 H5 L8 9.5 V19.5 H-3 Z" fill="#fbfbfb" stroke="#8a8a8a" stroke-width="1"/>
<rect x="-1" y="10" width="6" height="1" fill="#9a9a9a"/><rect x="-1" y="13" width="4" height="1" fill="#9a9a9a"/>
<path d="M5 12.5 H9 V16 H12.8 V20 H9 V23.8 H5 V20 H1.4 V16 H5 Z" fill="url(#gGreen)" stroke="#087a08" stroke-width="0.8"/>
</g>
<text x="16" y="17.400" font-size="12px" fill="#000" textLength="35.600">新订单</text>

<!-- gold book -->
<g>
<path d="M63.900 14.800 L72.600 20.200 L79.900 14.200 L79.900 16 L72.800 22 L63.900 16.600 Z" fill="#a86c10" stroke="#8a560c" stroke-width="0.500"/>
<path d="M70.600 7.200 Q71.300 6.700 72 7.300 L79.700 13.700 Q80.100 14.200 79.600 14.700 L73.200 19.900 Q72.600 20.300 72 19.900 L64.200 15.100 Q63.700 14.700 64.100 14.100 Z" fill="url(#gGold2)" stroke="#b8801a" stroke-width="0.800"/>
<path d="M65.500 15.700 L72.600 20.100" stroke="#fff0a8" stroke-width="0.700" opacity="0.800"/>
</g>
<!-- blue doc + cloud -->
<g>
<path d="M95 6.5 L104 6.5 L105.5 8 V17 H95 Z" fill="url(#gBlue)" stroke="#1256ae" stroke-width="1"/>
<rect x="98" y="9" width="5" height="1.4" fill="#d8ecff"/><rect x="98" y="12" width="3" height="1.4" fill="#d8ecff"/>
<path d="M94 21.5 a3 3 0 0 1 0.6 -5.8 a3.6 3.6 0 0 1 6.6 -1.2 a3.2 3.2 0 0 1 4.8 2.4 a2.4 2.4 0 0 1 -0.4 4.6 Z" fill="#eef3fb" stroke="#8aa4cc" stroke-width="1"/>
</g>
<!-- signal -->
<g fill="none">
<path d="M128.200 21.200 A7.800 7.800 0 1 1 136 13.400" stroke="#a8bcd8" stroke-width="1.300"/>
<path d="M128.200 18.400 A5 5 0 1 1 133.200 13.400" stroke="#7c9cd0" stroke-width="1.300"/>
<path d="M136 13.400 A7.800 7.800 0 0 1 128.200 21.200" stroke="#58b858" stroke-width="1.400"/>
<path d="M133.200 13.400 A5 5 0 0 1 128.200 18.400" stroke="#78c878" stroke-width="1.300"/>
<circle cx="128.200" cy="13.400" r="1.900" fill="#2a6ad0"/>
<path d="M128.400 14 V21.600" stroke="#22aa22" stroke-width="1.500"/>
</g>
<!-- hat with stop -->
<g>
<path d="M148.300 13.300 L162 13.300 L156.500 21.400 L153 20.500 Z" fill="#f4cc3c" stroke="#c8961c" stroke-width="0.700"/>
<ellipse cx="154.900" cy="10.800" rx="7.800" ry="2.900" fill="#5a9ee0" stroke="#3a78c0" stroke-width="0.800"/>
<path d="M150.400 10.400 Q150.800 6 154.900 6 Q159 6 159.400 10.400 Q154.900 12 150.400 10.400 Z" fill="#6cb0ec" stroke="#3a78c0" stroke-width="0.700"/>
<circle cx="159.700" cy="17.800" r="3.700" fill="#e42814"/>
<rect x="158.200" y="16.400" width="3" height="2.800" fill="#fff"/>
</g>
<text x="168.600" y="17.400" font-size="12px" fill="#000" textLength="46.600">自动交易</text>

<rect x="223" y="1" width="1" height="25" fill="#a0a0a0"/><rect x="224" y="1" width="1" height="25" fill="#ffffff"/>
<use href="#grip" x="227" y="4"/>

<!-- bar chart icon -->
<use href="#ax" x="241.500" y="0"/>
<path d="M247.500 10 V17 M247.500 10.500 h2.300 M245.200 16.500 h2.300" stroke="#1a9a1a" stroke-width="1.400" fill="none"/>
<!-- candle icon selected -->
<rect x="262" y="2" width="24" height="22" fill="#f7f7f7"/><rect x="262" y="2" width="24" height="1" fill="#a8a8a8"/><rect x="262" y="2" width="1" height="22" fill="#a8a8a8"/><rect x="262" y="23" width="24" height="1" fill="#ffffff"/><rect x="285" y="2" width="1" height="22" fill="#ffffff"/>
<use href="#ax" x="269.500" y="0"/>
<path d="M275.500 6.300 V17.600" stroke="#157a15" stroke-width="1.100"/>
<rect x="273.500" y="9" width="4" height="6.800" fill="#28d028" stroke="#157a15" stroke-width="1"/>
<!-- line chart icon -->
<use href="#ax" x="297.500" y="0"/>
<path d="M296 17 Q299 12 302.300 11 Q305 11.500 307.800 15.300" stroke="#1a9a1a" stroke-width="1.300" fill="none"/>
<rect x="318" y="3" width="1" height="21" fill="#a0a0a0"/><rect x="319" y="3" width="1" height="21" fill="#ffffff"/>

<!-- zoom in -->
<g>
<path d="M337 15.500 L342.500 21.500" stroke="#c8a030" stroke-width="3" stroke-linecap="round"/>
<circle cx="333" cy="11.500" r="5.200" fill="url(#gLens)" stroke="#2a7ad0" stroke-width="1.6"/>
<path d="M330 11.500 h6 M333 8.500 v6" stroke="#1a60c0" stroke-width="1.6"/>
</g>
<!-- zoom out -->
<g>
<path d="M364.700 15.500 L370.200 21.500" stroke="#c8a030" stroke-width="3" stroke-linecap="round"/>
<circle cx="360.700" cy="11.500" r="5.200" fill="url(#gLens)" stroke="#2a7ad0" stroke-width="1.6"/>
<path d="M357.700 11.500 h6" stroke="#1a60c0" stroke-width="1.6"/>
</g>
<!-- tiles -->
<g>
<rect x="383" y="6" width="7.700" height="7.500" fill="#3aa630"/><rect x="391.300" y="6" width="7.700" height="7.500" fill="#1c54d0"/>
<rect x="383" y="14.300" width="7.700" height="7.500" fill="#1c54d0"/><rect x="391.300" y="14.300" width="7.700" height="7.500" fill="#3aa630"/>
<g fill="none" stroke="#f0f6ff" stroke-width="0.900"><rect x="384.500" y="9.500" width="4.700" height="2.600"/><rect x="392.800" y="9.500" width="4.700" height="2.600"/><rect x="384.500" y="17.800" width="4.700" height="2.600"/><rect x="392.800" y="17.800" width="4.700" height="2.600"/></g>
</g>
<rect x="408" y="3" width="1" height="21" fill="#a0a0a0"/><rect x="409" y="3" width="1" height="21" fill="#ffffff"/>

<!-- chart shift selected -->
<rect x="413" y="2" width="25" height="22" fill="#f7f7f7"/><rect x="413" y="2" width="25" height="1" fill="#a8a8a8"/><rect x="413" y="2" width="1" height="22" fill="#a8a8a8"/><rect x="413" y="23" width="25" height="1" fill="#ffffff"/><rect x="437" y="2" width="1" height="22" fill="#ffffff"/>
<use href="#ax" x="421.500" y="0"/>
<polygon points="426.200,10.800 429.800,13.600 426.200,16.400" fill="#5fe05f" stroke="#149414" stroke-width="1"/>
<!-- autoscroll selected -->
<rect x="441" y="2" width="25" height="22" fill="#f7f7f7"/><rect x="441" y="2" width="25" height="1" fill="#a8a8a8"/><rect x="441" y="2" width="1" height="22" fill="#a8a8a8"/><rect x="441" y="23" width="25" height="1" fill="#ffffff"/><rect x="465" y="2" width="1" height="22" fill="#ffffff"/>
<use href="#ax" x="449.500" y="0"/>
<path d="M455.500 8 V18" stroke="#1a6ab0" stroke-width="1.200"/>
<path d="M461 13.300 h-4 M459.200 11.300 l-2.400 2 l2.400 2" stroke="#d83c10" stroke-width="1.200" fill="none"/>
<rect x="470" y="3" width="1" height="21" fill="#a0a0a0"/><rect x="471" y="3" width="1" height="21" fill="#ffffff"/>

<!-- indicators doc + plus -->
<g>
<path d="M480.500 6.500 H487 L489.500 9 V19 H480.500 Z" fill="#fbfbfb" stroke="#707070" stroke-width="1"/>
<path d="M483 10 v6 M483 12 h3" stroke="#606060" stroke-width="1" fill="none"/>
<path d="M488 13.500 H491.500 V17 H495.400 V20.500 H491.500 V24 H488 V20.500 H484.500 V17 H488 Z" fill="url(#gGreen)" stroke="#087a08" stroke-width="0.8"/>
</g>
<use href="#dd" x="502" y="12.500"/>
<!-- clock -->
<g>
<circle cx="526" cy="13.800" r="8" fill="url(#gClock)"/>
<circle cx="526" cy="13.800" r="5.400" fill="#f2f6fc"/>
<path d="M526 10 V14.300 H529.300" stroke="#585858" stroke-width="1.100" fill="none"/>
<g fill="#8a8a8a"><rect x="525.500" y="8.900" width="1" height="1"/><rect x="525.500" y="17.700" width="1" height="1"/><rect x="521.200" y="13.300" width="1" height="1"/><rect x="529.900" y="13.300" width="1" height="1"/></g>
</g>
<use href="#dd" x="541" y="12.500"/>
<!-- templates -->
<g>
<rect x="557.500" y="7.500" width="15.500" height="13.500" fill="#f4f8ff" stroke="#2a68b8" stroke-width="1"/>
<rect x="557.500" y="7.500" width="15.500" height="2.500" fill="#3a7ad0" stroke="#2a68b8" stroke-width="1"/>
<path d="M559.500 14 l3 -1.500 l3 1 l3 -2 l3 0.500" stroke="#c02020" stroke-width="1.2" fill="none"/>
<path d="M559.500 18.500 l3 -1.500 l3 1.500 l3 -2 l3 1.500" stroke="#20a020" stroke-width="1.200" fill="none"/>
</g>
<use href="#dd" x="580" y="12.500"/>
<rect x="591" y="1" width="1" height="25" fill="#a0a0a0"/><rect x="592" y="1" width="1" height="25" fill="#ffffff"/>
<use href="#grip" x="595" y="4"/>

<!-- cursor selected -->
<rect x="601" y="2" width="25" height="22" fill="#f7f7f7"/><rect x="601" y="2" width="25" height="1" fill="#a8a8a8"/><rect x="601" y="2" width="1" height="22" fill="#a8a8a8"/><rect x="601" y="23" width="25" height="1" fill="#ffffff"/><rect x="625" y="2" width="1" height="22" fill="#ffffff"/>
<path d="M609.500 7 V20 L612.300 17.400 L614.500 22 L616.500 21 L614.300 16.600 L618 16.300 Z" fill="#404040"/>
<!-- crosshair -->
<path d="M641.500 7 V12.500 M641.500 16.500 V22 M634 14.500 H639.500 M643.500 14.500 H649" stroke="#404040" stroke-width="1.200" fill="none"/><rect x="641" y="14" width="1" height="1" fill="#404040"/>
<rect x="658" y="3" width="1" height="21" fill="#a0a0a0"/><rect x="659" y="3" width="1" height="21" fill="#ffffff"/>
<!-- vline, hline, trend -->
<path d="M675.500 8 V21" stroke="#404040" stroke-width="1.3"/>
<path d="M697.500 14.500 H710" stroke="#404040" stroke-width="1.3"/>
<path d="M725.500 21 L738.500 8.500" stroke="#404040" stroke-width="1.3"/>
<!-- channel E -->
<g stroke="#404040" stroke-width="1.200" fill="none">
<path d="M752 16 L764 7 M753.500 20.500 L766 11.500 M756 11 L756.500 20 M760 8.500 L760.500 17 M763.500 7 L764 14"/>
</g>
<text x="762.500" y="23" font-size="7px" font-weight="bold" fill="#303030">E</text>
<!-- fib F -->
<g stroke="#505050" stroke-width="1" stroke-dasharray="1 1" fill="none" shape-rendering="crispEdges">
<path d="M780.500 7.500 H794 M780.500 11.500 H794 M780.500 15.500 H794 M780.500 19 H789"/>
</g>
<text x="790.500" y="23" font-size="7px" font-weight="bold" fill="#303030">F</text>
<!-- A -->
<text x="810.800" y="19" font-size="12.500px" fill="#404040" stroke="#404040" stroke-width="0.400" textLength="9">A</text>
<!-- T box -->
<rect x="837.500" y="7.500" width="12" height="13" fill="none" stroke="#505050" stroke-width="1" stroke-dasharray="1 1" shape-rendering="crispEdges"/>
<text x="839.500" y="19.500" font-size="12px" font-weight="bold" fill="#404040" textLength="8">T</text>
<!-- arrows -->
<g fill="#404040">
<polygon points="865,12 868,8 871,12"/><polygon points="872,18 875.500,21.500 879,18 875.500,15.500"/>
<path d="M867 15 l3 3.500 l5 -7" stroke="#404040" stroke-width="1.600" fill="none"/>
</g>
<use href="#dd" x="886" y="12.500"/>
<rect x="897" y="1" width="1" height="25" fill="#a0a0a0"/><rect x="898" y="1" width="1" height="25" fill="#ffffff"/>
<use href="#grip" x="901" y="4"/>

<!-- timeframes -->
<rect x="1047" y="2" width="25" height="22" fill="#f7f7f7"/><rect x="1047" y="2" width="25" height="1" fill="#a8a8a8"/><rect x="1047" y="2" width="1" height="22" fill="#a8a8a8"/><rect x="1047" y="23" width="25" height="1" fill="#ffffff"/><rect x="1071" y="2" width="1" height="22" fill="#ffffff"/>
<g font-size="10px" fill="#303030">
<text x="912.300" y="18" textLength="13">M1</text>
<text x="940.400" y="18" textLength="13">M5</text>
<text x="966.600" y="18" textLength="17.500">M15</text>
<text x="994.800" y="18" textLength="17.500">M30</text>
<text x="1025.600" y="18" textLength="11.800">H1</text>
<text x="1052.500" y="18" textLength="12.300">H4</text>
<text x="1081.700" y="18" textLength="11.800">D1</text>
<text x="1109" y="18" textLength="14">W1</text>
<text x="1135.500" y="18" textLength="15">MN</text>
</g>
<rect x="1158" y="1" width="1" height="25" fill="#a0a0a0"/><rect x="1159" y="1" width="1" height="25" fill="#ffffff"/>

<!-- search -->
<g>
<path d="M1625.600 14.400 L1621.300 18.700" stroke="#2a5ad0" stroke-width="2.500" stroke-linecap="round"/>
<circle cx="1628.500" cy="11.400" r="4" fill="#f2f2f4" stroke="#2a5cd8" stroke-width="1.300"/>
</g>
<!-- chat -->
<defs><linearGradient id="gBub" x1="0" y1="0" x2="0" y2="1"><stop offset="0" stop-color="#fdfdfd"/><stop offset="1" stop-color="#d4d6e2"/></linearGradient></defs>
<g fill="url(#gBub)" stroke="#a6a6a6" stroke-width="1">
<path d="M1662.400 15.800 L1664 17.600 L1663.300 15.600 Z" fill="#8a8a8a" stroke="#8a8a8a" stroke-width="0.600"/>
<ellipse cx="1661.400" cy="11.200" rx="6.400" ry="4.600"/>
<path d="M1651 18 L1649.600 20.400 L1652.600 18.300 Z" fill="#8a8a8a" stroke="#8a8a8a" stroke-width="0.600"/>
<ellipse cx="1652.300" cy="14.800" rx="5.200" ry="3.600"/>
</g>
</svg>

<div class="panel">
 <div class="pbg"></div>
 <div class="sellt"><span>SELL</span><i></i></div>
 <div class="sellb"><span class="sm">29954</span><span class="dot">.</span><span class="bg">5</span></div>
 <div class="spin"><div class="sb l"><b class="dn"></b></div><div class="val">1.00</div><div class="sb r"><b class="up"></b></div></div>
 <div class="buyt"><span>BUY</span><i></i></div>
 <div class="buyb"><span class="sm">29968</span><span class="dot">.</span><span class="bg">5</span></div>
</div>

</body></html>
